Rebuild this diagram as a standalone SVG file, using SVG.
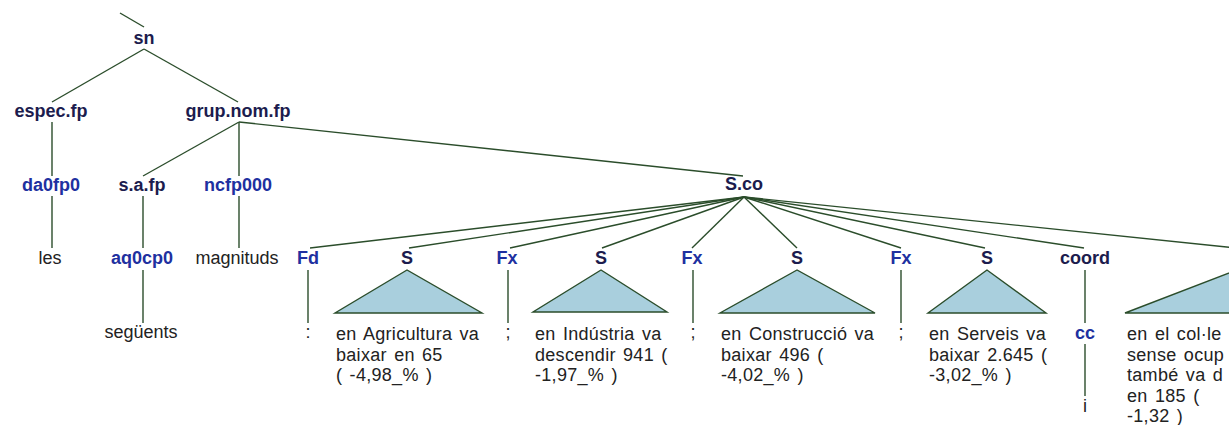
<svg xmlns="http://www.w3.org/2000/svg" width="1229" height="425" viewBox="0 0 1229 425">
<style>
.cat{font-family:"Liberation Sans",Arial,sans-serif;font-weight:bold;font-size:18px;fill:#1c1c4e;text-anchor:middle}
.pos{font-family:"Liberation Sans",Arial,sans-serif;font-weight:bold;font-size:18px;fill:#2030a0;text-anchor:middle}
.w{font-family:"Liberation Sans",Arial,sans-serif;font-size:18px;fill:#222;text-anchor:middle}
.t{font-family:"Liberation Sans",Arial,sans-serif;font-size:18px;fill:#222;word-spacing:2px;letter-spacing:0.3px}
.e{stroke:#2b4d2b;stroke-width:1.4;fill:none}
.tri{fill:#a9cfdd;stroke:#2b4d2b;stroke-width:1.4}
</style>
<rect width="1229" height="425" fill="#fff"/>
<g id="connectors" class="e">
<line x1="120" y1="13" x2="144" y2="27"/>
<line x1="144" y1="49" x2="52" y2="102"/>
<line x1="144" y1="49" x2="238" y2="102"/>
<line x1="52" y1="122" x2="52" y2="176"/>
<line x1="52" y1="196" x2="52" y2="248"/>
<line x1="239" y1="122" x2="143" y2="176"/>
<line x1="239" y1="122" x2="239" y2="176"/>
<line x1="239" y1="122" x2="743" y2="176"/>
<line x1="143" y1="196" x2="143" y2="248"/>
<line x1="143" y1="270" x2="143" y2="323"/>
<line x1="239" y1="196" x2="239" y2="248"/>
<line x1="744" y1="197" x2="310" y2="248"/>
<line x1="744" y1="197" x2="409" y2="248"/>
<line x1="744" y1="197" x2="510" y2="248"/>
<line x1="744" y1="197" x2="602" y2="248"/>
<line x1="744" y1="197" x2="692" y2="248"/>
<line x1="744" y1="197" x2="797" y2="248"/>
<line x1="744" y1="197" x2="901" y2="248"/>
<line x1="744" y1="197" x2="985" y2="248"/>
<line x1="744" y1="197" x2="1084" y2="248"/>
<line x1="744" y1="197" x2="1237" y2="248"/>
<line x1="308" y1="270" x2="308" y2="323"/>
<line x1="508" y1="270" x2="508" y2="323"/>
<line x1="693" y1="270" x2="693" y2="323"/>
<line x1="901" y1="270" x2="901" y2="323"/>
<line x1="1085" y1="270" x2="1085" y2="323"/>
<line x1="1085" y1="344" x2="1085" y2="396"/>
</g>
<g id="sn"><text class="cat" x="144" y="44">sn</text></g>
<g id="espec_fp"><text class="cat" x="51" y="117">espec.fp</text></g>
<g id="grup_nom_fp"><text class="cat" x="238" y="117">grup.nom.fp</text></g>
<g id="da0fp0"><text class="pos" x="51" y="191">da0fp0</text></g>
<g id="les"><text class="w" x="50" y="264">les</text></g>
<g id="s_a_fp"><text class="cat" x="142" y="191">s.a.fp</text></g>
<g id="aq0cp0"><text class="pos" x="142" y="264">aq0cp0</text></g>
<g id="seguents"><text class="w" x="141" y="338">següents</text></g>
<g id="ncfp000"><text class="pos" x="238" y="191">ncfp000</text></g>
<g id="magnituds"><text class="w" x="237" y="264">magnituds</text></g>
<g id="S_co"><text class="cat" x="744" y="190">S.co</text></g>
<g id="Fd"><text class="pos" x="308" y="264">Fd</text><text class="w" x="308" y="338">:</text></g>
<g id="S1"><text class="cat" x="407" y="264">S</text>
<polygon class="tri" points="407,270 335,313 482,313"/>
<text class="t" x="336" y="340">en Agricultura va</text>
<text class="t" x="336" y="360.5">baixar en 65</text>
<text class="t" x="336" y="381">( -4,98_% )</text></g>
<g id="Fx1"><text class="pos" x="507" y="264">Fx</text><text class="w" x="508" y="338">;</text></g>
<g id="S2"><text class="cat" x="601" y="264">S</text>
<polygon class="tri" points="601,270 533,312 667,312"/>
<text class="t" x="535" y="340">en Indústria va</text>
<text class="t" x="535" y="360.5">descendir 941 (</text>
<text class="t" x="535" y="381">-1,97_% )</text></g>
<g id="Fx2"><text class="pos" x="692" y="264">Fx</text><text class="w" x="693" y="338">;</text></g>
<g id="S3"><text class="cat" x="797" y="264">S</text>
<polygon class="tri" points="797,270 720,313 875,313"/>
<text class="t" x="721" y="340">en Construcció va</text>
<text class="t" x="721" y="360.5">baixar 496 (</text>
<text class="t" x="721" y="381">-4,02_% )</text></g>
<g id="Fx3"><text class="pos" x="901" y="264">Fx</text><text class="w" x="901" y="338">;</text></g>
<g id="S4"><text class="cat" x="987" y="264">S</text>
<polygon class="tri" points="987,270 928,313 1046,313"/>
<text class="t" x="929" y="340">en Serveis va</text>
<text class="t" x="929" y="360.5">baixar 2.645 (</text>
<text class="t" x="929" y="381">-3,02_% )</text></g>
<g id="coord"><text class="cat" x="1085" y="264">coord</text></g>
<g id="cc"><text class="pos" x="1085" y="339">cc</text><text class="w" x="1085" y="412">i</text></g>
<g id="S5">
<polygon class="tri" points="1237,270 1125,313 1349,313"/>
<text class="t" x="1127" y="340">en el col·le</text>
<text class="t" x="1127" y="360.5">sense ocup</text>
<text class="t" x="1127" y="381">també va d</text>
<text class="t" x="1127" y="401.5">en 185 (</text>
<text class="t" x="1127" y="422">-1,32 )</text></g>
</svg>
